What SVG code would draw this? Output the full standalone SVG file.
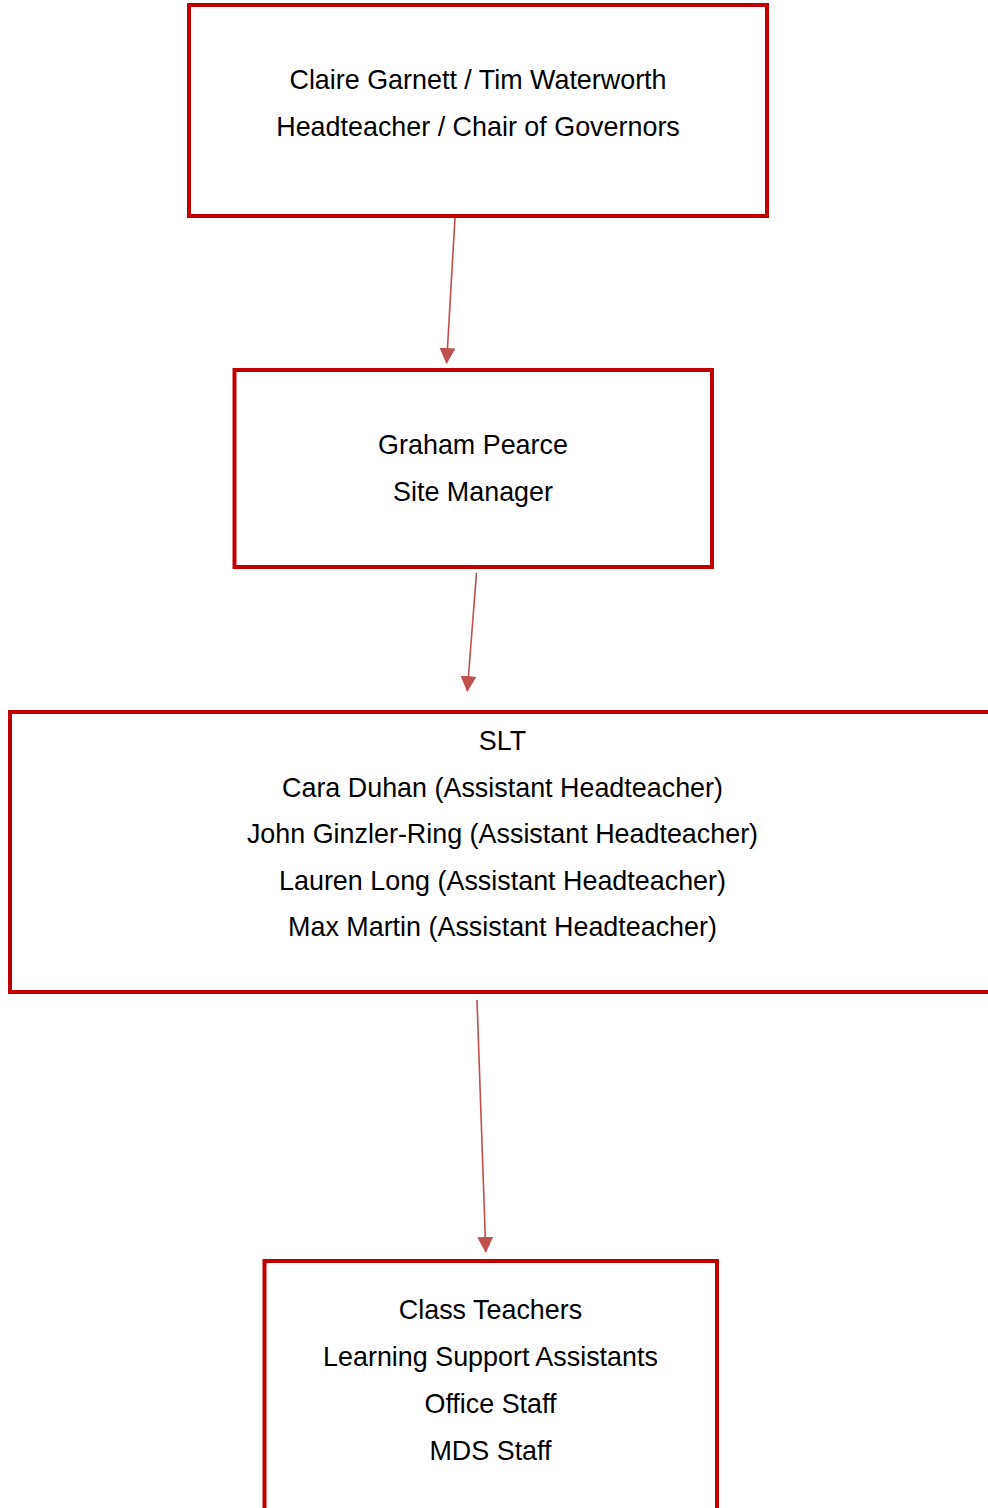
<svg xmlns="http://www.w3.org/2000/svg" width="988" height="1508" viewBox="0 0 988 1508">
<style>
.box{fill:#fff;stroke:#C00000;stroke-width:4}
.t{font-family:"Liberation Sans",Arial,sans-serif;font-size:26.9px;fill:#000;text-anchor:middle}
.conn{stroke:#C0504D;stroke-width:1.6;fill:none;marker-end:url(#ah)}
</style>
<defs>
<marker id="ah" markerUnits="userSpaceOnUse" markerWidth="16" markerHeight="16" viewBox="0 0 16 16" refX="15" refY="8" orient="auto">
<path d="M0,0 L16,8 L0,16 Z" fill="#C0504D"/>
</marker>
</defs>
<rect width="988" height="1508" fill="#fff"/>
<g id="connectors">
<line class="conn" x1="455" y1="218" x2="446.6" y2="363"/>
<line class="conn" x1="476.5" y1="573" x2="467.3" y2="691"/>
<line class="conn" x1="477" y1="1000" x2="485.8" y2="1252"/>
</g>
<g id="node-head">
<rect class="box" x="189" y="5" width="578" height="211"/>
<text class="t" x="478" y="89">Claire Garnett / Tim Waterworth</text>
<text class="t" x="478" y="136">Headteacher / Chair of Governors</text>
</g>
<g id="node-site">
<rect class="box" x="234.5" y="370" width="477.5" height="197"/>
<text class="t" x="473" y="454">Graham Pearce</text>
<text class="t" x="473" y="501">Site Manager</text>
</g>
<g id="node-slt">
<rect class="box" x="10" y="712" width="990" height="280"/>
<text class="t" x="502.5" y="750">SLT</text>
<text class="t" x="502.5" y="797">Cara Duhan (Assistant Headteacher)</text>
<text class="t" x="502.5" y="843">John Ginzler-Ring (Assistant Headteacher)</text>
<text class="t" x="502.5" y="890">Lauren Long (Assistant Headteacher)</text>
<text class="t" x="502.5" y="936">Max Martin (Assistant Headteacher)</text>
</g>
<g id="node-staff">
<rect class="box" x="264.5" y="1261" width="452.5" height="260"/>
<text class="t" x="490.5" y="1319">Class Teachers</text>
<text class="t" x="490.5" y="1366">Learning Support Assistants</text>
<text class="t" x="490.5" y="1413">Office Staff</text>
<text class="t" x="490.5" y="1460">MDS Staff</text>
</g>
</svg>
